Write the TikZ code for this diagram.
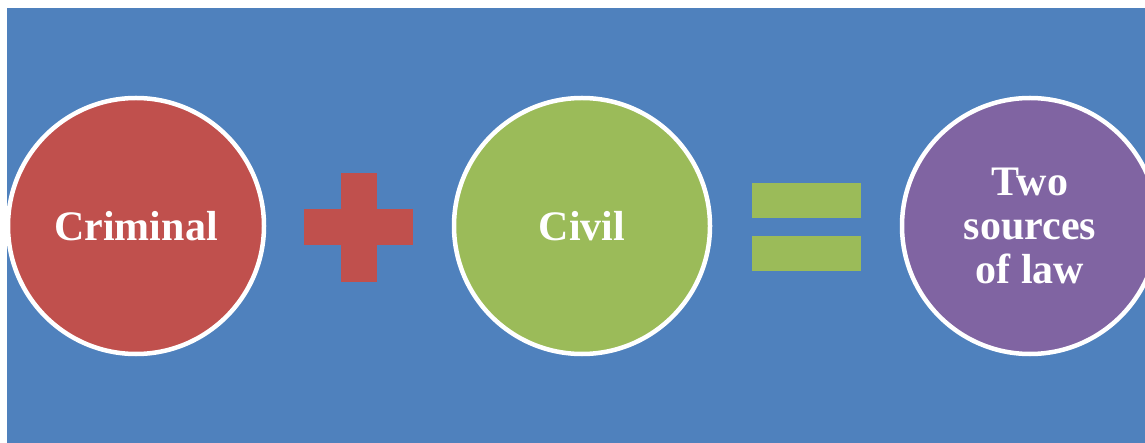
\documentclass[tikz,border=0pt]{standalone}
\usepackage{fontspec}
\setmainfont{Liberation Serif}
\definecolor{bgblue}{HTML}{4F81BD}
\definecolor{lawred}{HTML}{C0504D}
\definecolor{lawgreen}{HTML}{9BBB59}
\definecolor{lawpurple}{HTML}{8064A2}
\tikzset{
  bubble/.style={circle, draw=white, line width=4.5pt, minimum size=256pt, inner sep=0pt,
    text=white, font=\fontsize{42}{44}\selectfont\bfseries, align=center},
}
\begin{document}
\begin{tikzpicture}[x=1pt,y=-1pt]
  \useasboundingbox (0,0) rectangle (1145,443);
  \fill[white] (0,0) rectangle (1145,443);
  \fill[bgblue] (7,8) rectangle (1145,443);
  \begin{scope}
    \clip (7,8) rectangle (1145,443);
    \node[bubble, fill=lawred] (criminal) at (136,226) {Criminal};
    \node[bubble, fill=lawgreen] (civil) at (582,226) {Civil};
    \node[bubble, fill=lawpurple] (sources) at (1030,226) {Two\\sources\\of law};
  \end{scope}
  % plus sign
  \fill[lawred] (341,173) rectangle (377,282);
  \fill[lawred] (304,209) rectangle (413,245);
  % equals sign
  \fill[lawgreen] (752,183) rectangle (861,218);
  \fill[lawgreen] (752,236) rectangle (861,271);
\end{tikzpicture}
\end{document}
